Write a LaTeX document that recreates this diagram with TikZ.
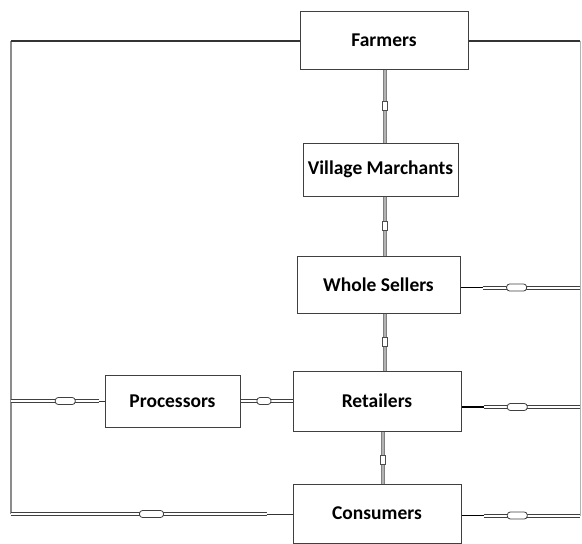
\documentclass[tikz,border=0pt]{standalone}
\usepackage{fontspec}
\setmainfont{Carlito}
\begin{document}
\begin{tikzpicture}[x=1pt,y=-1pt,
  box/.style={draw=black!75,line width=1pt,fill=white,font=\bfseries\fontsize{19.5}{22}\selectfont,inner sep=0pt},
  plain/.style={draw=black!80,line width=1.1pt},
  side/.style={draw=black!45,line width=2.2pt},
  conn/.style={draw=black!75,double=white,double distance=2pt,line width=1pt},
  vconn/.style={draw=black!50,double=black!30,double distance=2pt,line width=1.3pt},
  hmark/.style={draw=black!75,fill=white,rounded corners=3pt,minimum width=20pt,minimum height=7pt,inner sep=0pt,line width=0.8pt},
  vmark/.style={draw=black!70,fill=white,minimum width=5pt,minimum height=9pt,inner sep=0pt,line width=0.7pt},
  stub/.style={draw=black,line width=1.8pt}]
\useasboundingbox (0,0) rectangle (582,544);
% boxes
\node[box,minimum width=168pt,minimum height=58pt] (farm) at (384,40) {Farmers};
\node[box,minimum width=155pt,minimum height=53pt] (vill) at (380.5,169.5) {Village Marchants};
\node[box,minimum width=163pt,minimum height=57pt] (whole) at (378.5,284.5) {Whole Sellers};
\node[box,minimum width=168pt,minimum height=60pt] (ret) at (377,401) {Retailers};
\node[box,minimum width=168pt,minimum height=59pt] (cons) at (377,513.5) {Consumers};
\node[box,minimum width=135pt,minimum height=52pt] (proc) at (172.5,401) {Processors};
% frame coordinates
\coordinate (lt) at (11,41);
\coordinate (lb) at (11,514);
\coordinate (rt) at (580,41);
\coordinate (rb) at (580,516);
% outer lines
\draw[side] (lt) -- (lb);
\draw[draw=black!30,line width=1pt] (rt) -- (rb);
\draw[plain] (farm.west |- lt) -- (lt);
\draw[plain] (farm.east |- rt) -- (rt);
% vertical connectors
\draw[vconn] ([xshift=1pt]farm.south) -- node[vmark,pos=0.5]{} ([xshift=1pt]farm.south |- vill.north);
\draw[vconn] ([xshift=4.5pt]vill.south) -- node[vmark,pos=0.5]{} ([xshift=4.5pt]vill.south |- whole.north);
\draw[vconn] ([xshift=6.5pt]whole.south) -- node[vmark,pos=0.5]{} ([xshift=6.5pt]whole.south |- ret.north);
\draw[vconn] ([xshift=6pt]ret.south) -- node[vmark,pos=0.55]{} ([xshift=6pt]ret.south |- cons.north);
% right connectors
\coordinate (w1) at ([yshift=-3pt]whole.east);
\coordinate (r1) at ([yshift=-6pt]ret.east);
\coordinate (c1) at ([yshift=-2pt]cons.east);
\draw[stub] (w1) -- ++(22,0) coordinate (w2);
\draw[conn] (w2) -- node[hmark,pos=0.35]{} (w2 -| rt);
\draw[stub] (r1) -- ++(22,0) coordinate (r2);
\draw[conn] (r2) -- node[hmark,pos=0.35]{} (r2 -| rt);
\draw[stub] (c1) -- ++(22,0) coordinate (c2);
\draw[conn] (c2) -- node[hmark,pos=0.35]{} (c2 -| rt);
% left connectors
\draw[conn] (lt |- proc.west) -- node[hmark,pos=0.62]{} ([xshift=-6pt]proc.west);
\draw[plain,line width=0.8pt] ([xshift=-6pt]proc.west) -- (proc.west);
\draw[conn] (proc.east) -- node[hmark,minimum width=14pt,pos=0.45]{} (ret.west);
\draw[conn] (lb) -- node[hmark,minimum width=24pt,pos=0.55]{} ([xshift=-26pt]cons.west |- lb);
\draw[plain,line width=0.8pt] ([xshift=-26pt]cons.west |- lb) -- (cons.west |- lb);
\end{tikzpicture}
\end{document}
